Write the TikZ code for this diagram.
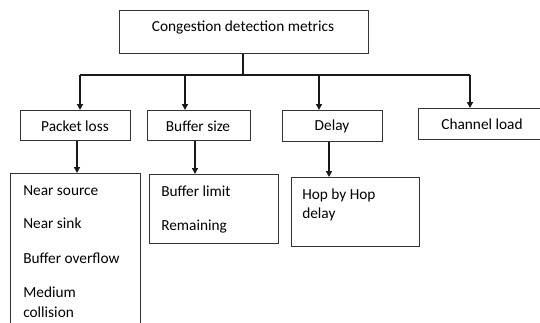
\documentclass[tikz,border=0pt]{standalone}
\usepackage{fontspec}
\setmainfont{Carlito}
\usetikzlibrary{arrows.meta}

\tikzset{
  box/.style={draw=black!80, line width=1.1pt, inner sep=0pt},
  lbl/.style={inner sep=0pt, text=black, font=\fontsize{11.5}{14}\selectfont},
  item/.style={lbl, anchor=base west},
  conn/.style={draw=black!90, line width=1.1pt},
  arr/.style={conn, -{Triangle[length=4.5pt,width=4.5pt]}},
}

\begin{document}
\begin{tikzpicture}[x=0.75pt, y=-0.75pt]
  \useasboundingbox (0,0) rectangle (540,322);
  \clip (0,0) rectangle (540,322);

  % boxes, given by their corners (units: one image pixel)
  \node[box, minimum width=249*0.75pt, minimum height=43*0.75pt, anchor=north west] (root) at (119,10) {};
  \node[box, minimum width=110*0.75pt, minimum height=30*0.75pt, anchor=north west] (pl) at (20,110) {};
  \node[box, minimum width=103*0.75pt, minimum height=30*0.75pt, anchor=north west] (bs) at (147,110) {};
  \node[box, minimum width=100*0.75pt, minimum height=31*0.75pt, anchor=north west] (dl) at (282,110) {};
  \node[box, minimum width=142*0.75pt, minimum height=31*0.75pt, anchor=north west] (cl) at (418,108) {};
  \node[box, minimum width=130*0.75pt, minimum height=170*0.75pt, anchor=north west] (pls) at (10,173) {};
  \node[box, minimum width=129*0.75pt, minimum height=69*0.75pt, anchor=north west] (bss) at (149,174) {};
  \node[box, minimum width=128*0.75pt, minimum height=69*0.75pt, anchor=north west] (dls) at (291,177) {};

  % box titles
  \node[lbl] (rootT) at (243,27) {Congestion detection metrics};
  \node[lbl] (plT) at (75,126) {Packet loss};
  \node[lbl] (bsT) at (198,126) {Buffer size};
  \node[lbl] (dlT) at (332,126) {Delay};
  \node[lbl] (clT) at (482,124) {Channel load};

  % list entries
  \node[item] (i1) at (23,195) {Near source};
  \node[item] (i2) at (23,228) {Near sink};
  \node[item] (i3) at (23,263) {Buffer overflow};
  \node[item] (i4) at (23,297) {Medium};
  \node[item] (i5) at (23,317) {collision};
  \node[item] (j1) at (161,196) {Buffer limit};
  \node[item] (j2) at (161,230) {Remaining};
  \node[item] (k1) at (302,199) {Hop by Hop};
  \node[item] (k2) at (302,218) {delay};

  % distribution bus under the root box
  \coordinate (hub) at (243,75);
  \coordinate (b1) at (80,75);
  \coordinate (b2) at (185,75);
  \coordinate (b3) at (319,75);
  \coordinate (b4) at (470,75);
  \draw[conn] (root.south -| hub) -- (hub);
  \draw[conn] (b1) -- (b4);
  \draw[arr] (b1) -- (b1 |- pl.north);
  \draw[arr] (b2) -- (b2 |- bs.north);
  \draw[arr] (b3) -- (b3 |- dl.north);
  \draw[arr] (b4) -- (b4 |- cl.north);

  % second level
  \coordinate (s1) at (77,0);
  \coordinate (s2) at (195,0);
  \coordinate (s3) at (329,0);
  \draw[arr] (s1 |- pl.south) -- (s1 |- pls.north);
  \draw[arr] (s2 |- bs.south) -- (s2 |- bss.north);
  \draw[arr] (s3 |- dl.south) -- (s3 |- dls.north);
\end{tikzpicture}
\end{document}
